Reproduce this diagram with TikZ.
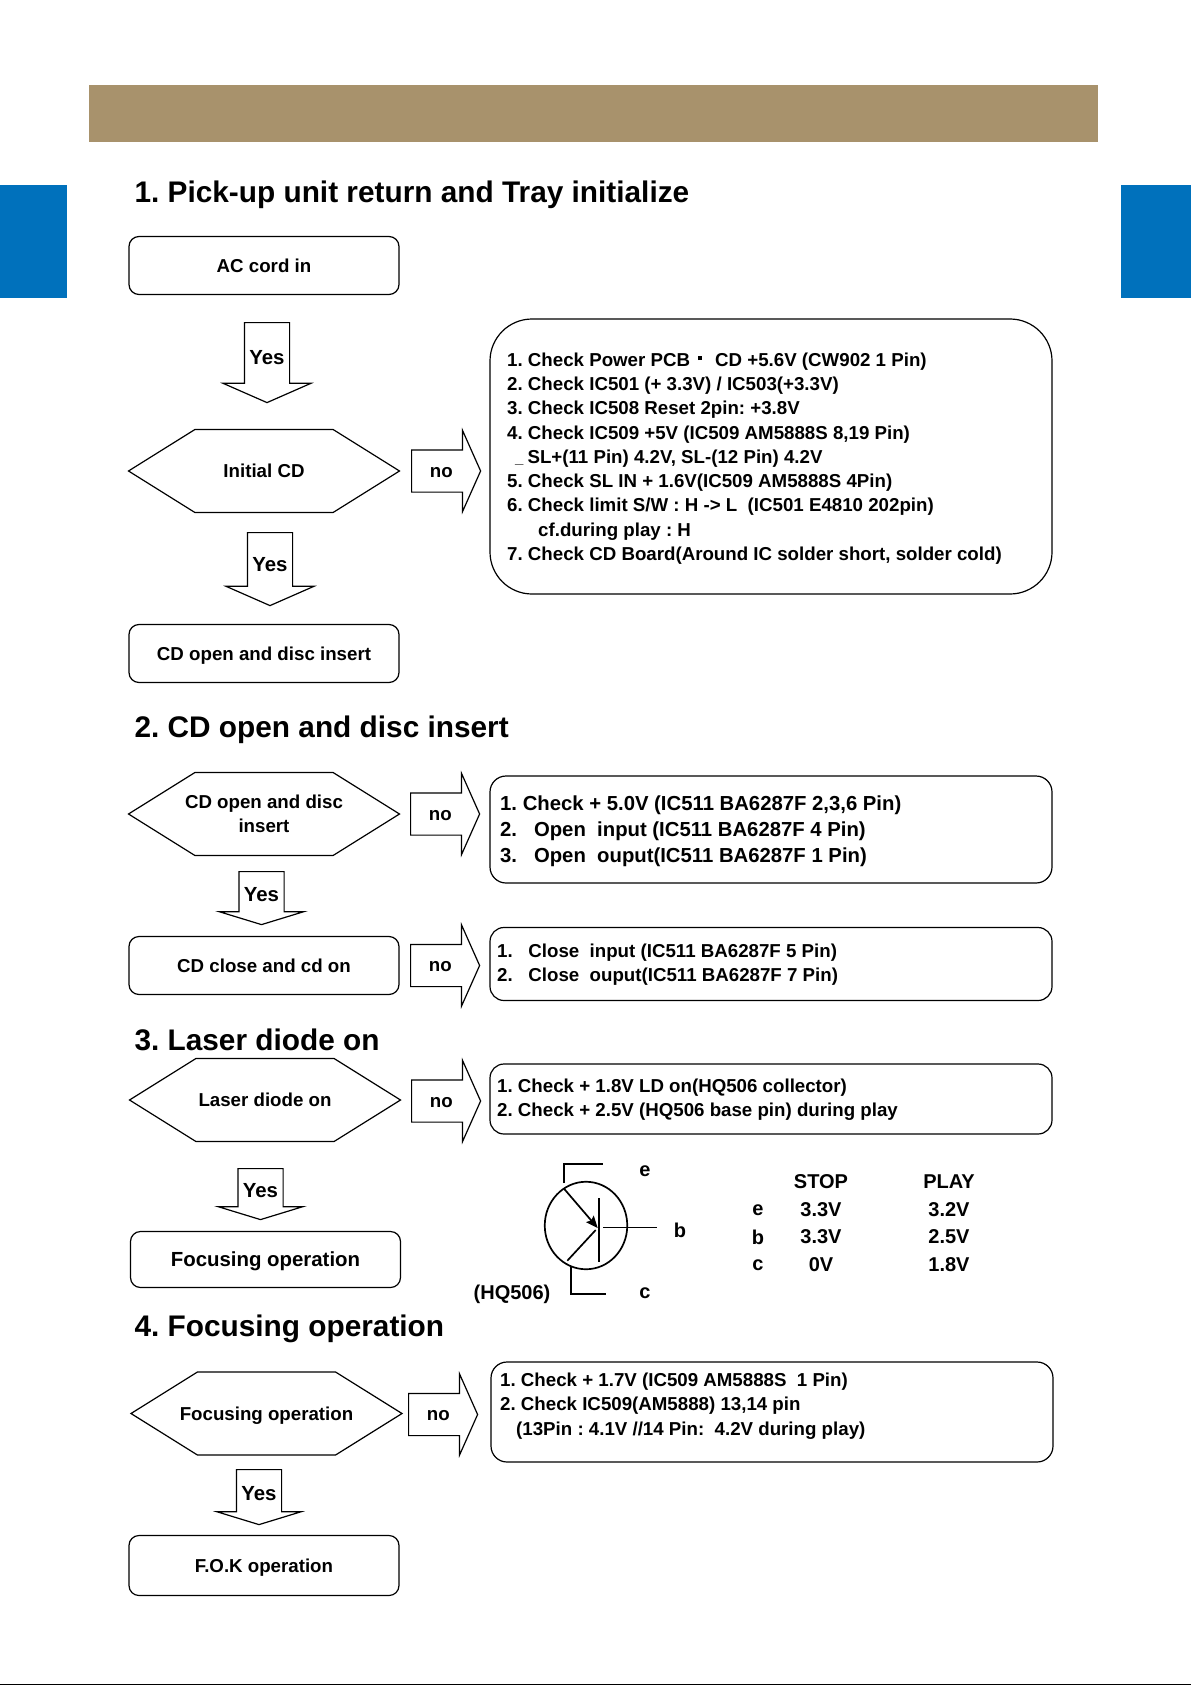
\documentclass[tikz,border=0pt]{standalone}
\usepackage{fontspec}
\setmainfont{Liberation Sans}
\usetikzlibrary{arrows.meta,positioning,calc,shapes.arrows,shapes.symbols,shapes.geometric}
\definecolor{bandtan}{HTML}{A8926C}
\definecolor{tabblue}{HTML}{0071BC}
\tikzset{
  every node/.style={font=\bfseries\fontsize{18.7}{24.3}\selectfont},
  heading/.style={anchor=west, font=\bfseries\fontsize{29.8}{32}\selectfont},
  stepbox/.style={draw, line width=1.2pt, rounded corners=10pt, minimum width=270pt, minimum height=58pt,
                  text height=13.5pt, text depth=0pt, inner sep=0pt},
  check/.style={draw, line width=1.2pt, signal, signal to=west and east, signal from=nowhere,
                signal pointer angle=64, minimum width=271pt, minimum height=83pt, inner sep=0pt,
                label={[align=center, inner sep=0pt, text depth=0pt]center:#1}},
  yesarrow/.style 2 args={draw, line width=1.2pt, single arrow, shape border rotate=270, anchor=tail,
                   single arrow head extend=#2, single arrow tip angle=#1,
                   text width=36pt, align=center, inner xsep=4pt, inner ysep=0pt,
                   font=\bfseries\fontsize{20.4}{24}\selectfont},
  noarrow/.style={draw, line width=1.2pt, single arrow, anchor=tail, minimum height=69pt,
                  single arrow head extend=19.5pt, single arrow tip angle=132,
                  text height=12pt, text depth=0pt, inner ysep=14.5pt, inner xsep=0pt},
  notebox/.style={draw, line width=1.2pt, rounded corners=#1, inner sep=0pt},
  listing/.style={anchor=west, align=left, inner sep=0pt},
  valrow/.style={font=\bfseries\fontsize{20}{22}\selectfont, inner sep=0pt},
  wire/.style={line width=1.7pt},
}
\begin{document}
\frenchspacing
\begin{tikzpicture}[x=1pt,y=-1pt]
  \useasboundingbox (0,0) rectangle (1191,1685);
  % page furniture
  \fill[bandtan] (89,85) rectangle (1098,142);
  \fill[tabblue] (0,185) rectangle (67,298);
  \fill[tabblue] (1121,185) rectangle (1191,298);
  \fill[black] (0,1683.5) rectangle (1191,1685);

  % section 1
  \node[heading] (h1) at (131,195) {1. Pick-up unit return and Tray initialize};
  \node[stepbox] (acin) at (264,265.5) {AC cord in};
  \node[yesarrow={132.6}{21.5pt}, minimum height=80pt] (y1) at (267,322) {Yes};
  \node[check={Initial CD}] (initcd) at (264,471) {};
  \node[noarrow] (n1) at (411,471) {no};
  \node[yesarrow={132.6}{21.5pt}, minimum height=73pt] (y2) at (270,532) {Yes};
  \node[stepbox] (open1) at (264,653.5) {CD open and disc insert};
  \node[notebox=42pt, minimum width=562pt, minimum height=275pt] (b1) at (771,456.5) {};
  \node[listing] (t1) at (507,458.5) {1. Check Power PCB\ \hspace{2.2pt}\raisebox{6pt}{\rule{4.5pt}{4.5pt}}\hspace{8pt}\ CD +5.6V (CW902 1 Pin)\\
    2. Check IC501 (+ 3.3V) / IC503(+3.3V)\\
    3. Check IC508 Reset 2pin: +3.8V\\
    4. Check IC509 +5V (IC509 AM5888S 8,19 Pin)\\
    \hspace*{8pt}{\fontsize{15}{15}\selectfont\_}\hspace*{4pt}SL+(11 Pin) 4.2V, SL-(12 Pin) 4.2V\\
    5. Check SL IN + 1.6V(IC509 AM5888S 4Pin)\\
    6. Check limit S/W : H -> L\ \ (IC501 E4810 202pin)\\
    \hspace*{31pt}cf.during play : H\\
    7. Check CD Board(Around IC solder short, solder cold)};

  % section 2
  \node[heading] (h2) at (131,730) {2. CD open and disc insert};
  \node[check={CD open and disc\\insert}] (open2) at (264,814) {};
  \node[noarrow] (n2) at (410,814) {no};
  \node[notebox=16pt, minimum width=562pt, minimum height=107pt] (b2) at (771,829.5) {};
  \node[listing, font=\bfseries\fontsize{20.3}{26}\selectfont] (t2) at (500,831) {1. Check + 5.0V (IC511 BA6287F 2,3,6 Pin)\\
    2.\ \ \ Open\ \ input (IC511 BA6287F 4 Pin)\\
    3.\ \ \ Open\ \ ouput(IC511 BA6287F 1 Pin)};
  \node[yesarrow={146}{19.5pt}, minimum height=53pt] (y3) at (261.5,871) {Yes};
  \node[stepbox] (close) at (264,965.5) {CD close and cd on};
  \node[noarrow] (n3) at (410,965.5) {no};
  \node[notebox=14pt, minimum width=562pt, minimum height=73pt] (b3) at (771,964) {};
  \node[listing] (t3) at (497,965) {1.\ \ \ Close\ \ input (IC511 BA6287F 5 Pin)\\
    2.\ \ \ Close\ \ ouput(IC511 BA6287F 7 Pin)};

  % section 3
  \node[heading] (h3) at (131,1040) {3. Laser diode on};
  \node[check={Laser diode on}] (laser) at (265,1100) {};
  \node[noarrow] (n4) at (411,1101) {no};
  \node[notebox=14pt, minimum width=562pt, minimum height=70pt] (b4) at (771,1099) {};
  \node[listing] (t4) at (497,1100) {1. Check + 1.8V LD on(HQ506 collector)\\
    2. Check + 2.5V (HQ506 base pin) during play};
  \node[yesarrow={146}{19.5pt}, minimum height=51pt] (y4) at (260.5,1168) {Yes};
  \node[stepbox, minimum height=56pt, font=\bfseries\fontsize{20.4}{24}\selectfont] (focus1) at (265.5,1259.5) {Focusing operation};

  % transistor
  \node[draw, wire, ellipse, minimum width=82.5pt, minimum height=87.5pt, inner sep=0pt] (q) at (586,1225.5) {};
  \draw[wire] (564.3,1183) -- (564.3,1164) -- (603,1164);
  \draw[wire, -{Stealth[length=12pt,width=10pt,inset=2pt]}] (564.3,1189) -- (597.7,1228);
  \draw[wire] (599,1198) -- (599,1262);
  \draw[wire] (603,1227.5) -- (656.5,1227.5);
  \draw[wire] (595.7,1230) -- (567.3,1260.7);
  \draw[wire] (570.7,1266.7) -- (570.7,1294) -- (606,1294);
  \node[valrow] (le) at (645,1171) {e};
  \node[valrow] (lb) at (680,1230) {b};
  \node[valrow] (lc) at (645,1293) {c};
  \node[valrow] (part) at (512,1294) {(HQ506)};

  % voltage table
  \node[valrow] (stop) at (821,1182) {STOP};
  \node[valrow] (play) at (949,1182) {PLAY};
  \node[valrow] (re) at (758,1210) {e};
  \node[valrow] (se) at (821,1210) {3.3V};
  \node[valrow] (pe) at (949,1210) {3.2V};
  \node[valrow] (rb) at (758,1237) {b};
  \node[valrow] (sb) at (821,1237) {3.3V};
  \node[valrow] (pb) at (949,1237) {2.5V};
  \node[valrow] (rc) at (758,1265) {c};
  \node[valrow] (sc) at (821,1265) {0V};
  \node[valrow] (pc) at (949,1265) {1.8V};

  % section 4
  \node[heading] (h4) at (131,1329) {4. Focusing operation};
  \node[check={Focusing operation}] (focus2) at (266.5,1413.5) {};
  \node[noarrow] (n5) at (408,1414.5) {no};
  \node[notebox=16pt, minimum width=562pt, minimum height=100pt] (b5) at (772,1412) {};
  \node[listing] (t5) at (500,1406) {1. Check + 1.7V (IC509 AM5888S\ \ 1 Pin)\\
    2. Check IC509(AM5888) 13,14 pin\\
    \hspace*{16pt}(13Pin : 4.1V //14 Pin:\ \ 4.2V during play)};
  \node[yesarrow={146}{19.5pt}, minimum height=55pt] (y5) at (259,1469) {Yes};
  \node[stepbox, minimum height=60pt] (fok) at (264,1565.5) {F.O.K operation};
\end{tikzpicture}
\end{document}
